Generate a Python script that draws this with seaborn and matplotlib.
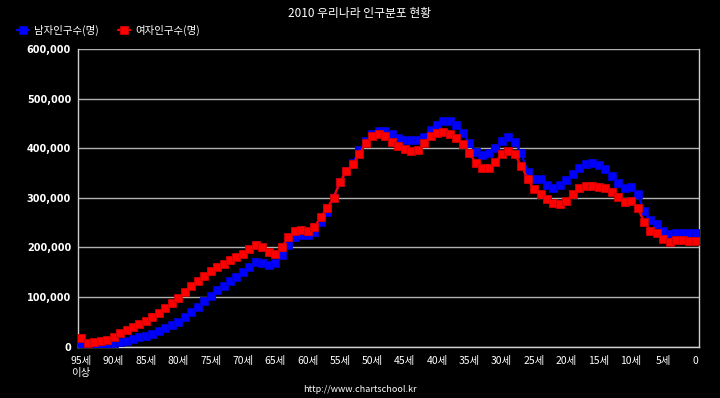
import numpy as np
import pandas as pd
import matplotlib
matplotlib.use("Agg")
import matplotlib.pyplot as plt
import seaborn as sns

# ---- data ----
age_labels = ["95세\n이상"] + [str(a) for a in range(94, -1, -1)]
tick_labels = ["95세\n이상", "90세", "85세", "80세", "75세", "70세", "65세", "60세", "55세",
               "50세", "45세", "40세", "35세", "30세", "25세", "20세", "15세", "10세", "5세", "0"]
male = [5000, 2500, 3500, 4500, 6000, 7500, 9000, 12000, 16000, 19500,
        22000, 26000, 31500, 37000, 43000, 50000, 59000, 70000, 81000, 92000,
        103000, 114000, 123000, 132000, 141000, 150000, 161000, 171000, 169000, 165000,
        168000, 185000, 204000, 222000, 225000, 225000, 232000, 252000, 271000, 300000,
        332000, 354000, 370000, 396000, 415000, 428000, 434000, 435000, 429000, 421500,
        416500, 416000, 416500, 423000, 436000, 447000, 455500, 455500, 447000, 431500,
        410000, 393000, 385500, 390000, 401000, 414500, 422000, 413000, 390000, 353000,
        338500, 338500, 325000, 319000, 325000, 336000, 347500, 360000, 368000, 370000,
        366000, 357500, 344000, 330500, 320500, 321500, 307000, 274000, 255500, 247000,
        234000, 227000, 230000, 230000, 228500, 228500]
female = [17500, 7000, 9500, 11500, 14000, 19500, 27000, 33500, 39500, 45000,
          52000, 59000, 67000, 77000, 87500, 98000, 110000, 122000, 132000, 142000,
          152000, 161000, 167000, 175000, 181000, 186000, 196000, 205000, 200000, 191500,
          186000, 201000, 220500, 233000, 235000, 234000, 240500, 261000, 279000, 300000,
          332000, 354000, 368000, 388500, 410000, 425000, 429000, 424000, 413000, 404500,
          398500, 394500, 397000, 410000, 425000, 431500, 432000, 429000, 421000, 408000,
          390000, 370000, 360000, 361000, 373000, 388000, 395000, 388000, 365000, 338500,
          317000, 308000, 297000, 289000, 287500, 294000, 308000, 320000, 324500, 324500,
          322500, 319000, 312500, 302000, 292000, 294000, 280000, 252000, 234000, 228500,
          217000, 211000, 215000, 214500, 213500, 212500]
series_names = ["남자인구수(명)", "여자인구수(명)"]
colors = ["#0000ff", "#ff0000"]
edge_colors = ["#0000d0", "#d00000"]
y_ticks = [0, 100000, 200000, 300000, 400000, 500000, 600000]

# ---- style ----
sns.set_theme(style="dark")
plt.rcParams["font.family"] = ["Noto Sans CJK KR", "DejaVu Sans"]

pos = np.arange(len(age_labels))
df = pd.DataFrame({
    "pos": np.concatenate([pos, pos]),
    "value": male + female,
    "series": [series_names[0]] * len(male) + [series_names[1]] * len(female),
})

fig = plt.figure(figsize=(7.2, 3.98), dpi=100, facecolor="black")
ax = fig.add_axes([78 / 720, 1 - 346.7 / 398, (699 - 78) / 720, (346.7 - 49) / 398])
ax.set_facecolor("black")

for name, c, ec in zip(series_names, colors, edge_colors):
    sub = df[df["series"] == name]
    sns.lineplot(data=sub, x="pos", y="value", ax=ax, color=c, marker="s",
                 markersize=5.6, markeredgecolor=ec, markeredgewidth=0.6,
                 linewidth=1.6, label=name, legend=False, zorder=3)

ax.set_xlim(-0.5, len(age_labels) - 0.5)
ax.set_ylim(0, 600000)
ax.set_yticks(y_ticks)
ax.set_yticklabels([f"{v:,}" for v in y_ticks], color="white", fontsize=7,
                   fontweight="bold", family=["DejaVu Sans"])
xt = pos[::5]
ax.set_xticks(xt)
ax.set_xticklabels(tick_labels, color="white", fontsize=7.5)
ax.set_xlabel("")
ax.set_ylabel("")
ax.grid(axis="y", color="#b0b0b0", linewidth=1.0)
ax.grid(axis="x", visible=False)
ax.tick_params(axis="both", colors="#c8c8c8", length=3, width=1, labelcolor="white")
ax.tick_params(axis="x", pad=4)
ax.tick_params(axis="y", pad=2)
for side in ["left", "bottom", "right"]:
    ax.spines[side].set_visible(True)
    ax.spines[side].set_color("#d0d0d0")
    ax.spines[side].set_linewidth(1.0)
ax.spines["top"].set_visible(False)

fig.text(0.5, 1 - 14 / 398, "2010 우리나라 인구분포 현황", color="white", fontsize=8.5,
         ha="center", va="center")
fig.text(0.5, 1 - 390 / 398, "http://www.chartschool.kr", color="white", fontsize=6.5,
         ha="center", va="center")

h, l = ax.get_legend_handles_labels()
fig.legend(h, l, loc="center left", bbox_to_anchor=(0.01, 1 - 30 / 398), ncol=2,
           frameon=False, fontsize=7.5, handlelength=1.2, handletextpad=0.5,
           columnspacing=1.8, labelcolor="white")

fig.savefig("out.png", dpi=100, facecolor="black")
